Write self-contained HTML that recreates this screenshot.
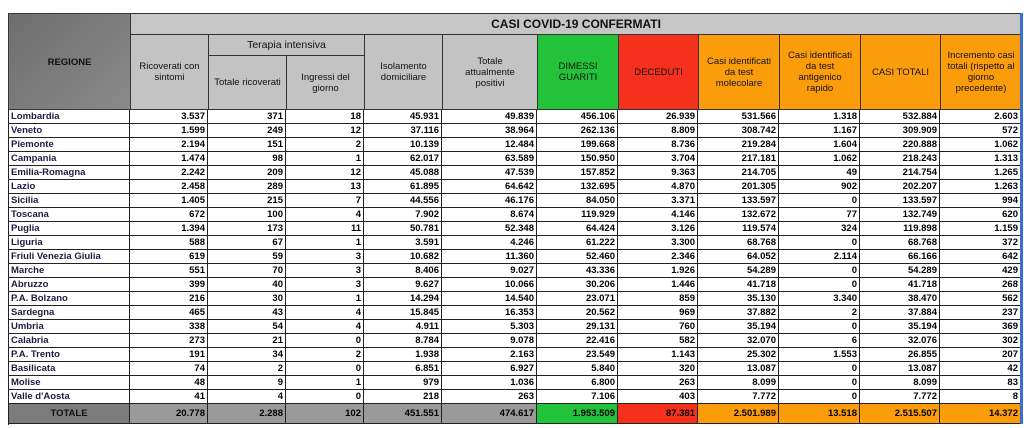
<!DOCTYPE html>
<html><head><meta charset="utf-8"><style>
body{margin:0;background:#fff;width:1024px;height:428px;overflow:hidden;font-family:"Liberation Sans",Arial,sans-serif;position:relative}
table{position:absolute;left:8px;top:13px;border-collapse:collapse;table-layout:fixed;width:1013px}
th{border:1px solid #333;font-size:9.5px;font-weight:normal;background:#c3c3c3;color:#111;line-height:11px;padding:0 1px}
.g{background:#22c23a!important}.red{background:#f5301c!important}.o{background:#fb9d0b!important}
#body{position:absolute;left:8px;top:110px;width:1013px;height:315px;overflow:hidden;border-left:1px solid #222;box-sizing:border-box}
.row{position:absolute;left:0;width:1012px;height:14px;display:flex;border-bottom:1px solid #222;box-sizing:border-box;overflow:hidden}
.row span{display:block;box-sizing:border-box;border-right:1px solid #222;height:100%;font-size:9.5px;font-weight:bold;text-align:right;padding:0 2px;line-height:13px;white-space:nowrap;overflow:hidden;background:#fff}
.row span:nth-child(1){width:121px;text-align:left;color:#1c1c40}
.row span:nth-child(2),.row span:nth-child(3),.row span:nth-child(4),.row span:nth-child(5){width:78px}
.row span:nth-child(6){width:95px}
.row span:nth-child(7){width:81px}.row span:nth-child(8){width:80px}.row span:nth-child(9){width:81px}.row span:nth-child(10){width:81px}.row span:nth-child(11){width:80px}.row span:nth-child(12){width:81px}
.row.t{height:21px;border-top:1px solid #222}
.row.t span{background:#9a9a9a;line-height:19px}
.row.t span:nth-child(1){background:#7c7c7c;text-align:center;color:#111}
</style></head><body>
<table>
<colgroup><col style="width:122px"><col style="width:78px"><col style="width:78px"><col style="width:78px"><col style="width:78px"><col style="width:95px"><col style="width:81px"><col style="width:80px"><col style="width:81px"><col style="width:81px"><col style="width:80px"><col style="width:81px"></colgroup>
<tr style="height:21px"><th rowspan="3" style="background:linear-gradient(135deg,#6e6e6e,#8a8a8a);font-weight:bold;font-size:9.5px;vertical-align:top;padding-top:43px">REGIONE</th><th colspan="11" style="font-weight:bold;font-size:12px;background:#c6c6c6">CASI COVID-19 CONFERMATI</th></tr>
<tr style="height:21px"><th rowspan="2">Ricoverati con<br>sintomi</th><th colspan="2" style="font-size:10.5px">Terapia intensiva</th><th rowspan="2">Isolamento<br>domiciliare</th><th rowspan="2">Totale<br>attualmente<br>positivi</th><th rowspan="2" class="g">DIMESSI<br>GUARITI</th><th rowspan="2" class="red">DECEDUTI</th><th rowspan="2" class="o">Casi identificati<br>da test<br>molecolare</th><th rowspan="2" class="o">Casi identificati<br>da test<br>antigenico<br>rapido</th><th rowspan="2" class="o">CASI TOTALI</th><th rowspan="2" class="o">Incremento casi<br>totali (rispetto al<br>giorno<br>precedente)</th></tr>
<tr style="height:54px"><th>Totale ricoverati</th><th>Ingressi del<br>giorno</th></tr>
</table>
<div id="body">
<div class="row" style="top:0px"><span>Lombardia</span><span>3.537</span><span>371</span><span>18</span><span>45.931</span><span>49.839</span><span>456.106</span><span>26.939</span><span>531.566</span><span>1.318</span><span>532.884</span><span>2.603</span></div>
<div class="row" style="top:14px"><span>Veneto</span><span>1.599</span><span>249</span><span>12</span><span>37.116</span><span>38.964</span><span>262.136</span><span>8.809</span><span>308.742</span><span>1.167</span><span>309.909</span><span>572</span></div>
<div class="row" style="top:28px"><span>Piemonte</span><span>2.194</span><span>151</span><span>2</span><span>10.139</span><span>12.484</span><span>199.668</span><span>8.736</span><span>219.284</span><span>1.604</span><span>220.888</span><span>1.062</span></div>
<div class="row" style="top:42px"><span>Campania</span><span>1.474</span><span>98</span><span>1</span><span>62.017</span><span>63.589</span><span>150.950</span><span>3.704</span><span>217.181</span><span>1.062</span><span>218.243</span><span>1.313</span></div>
<div class="row" style="top:56px"><span>Emilia-Romagna</span><span>2.242</span><span>209</span><span>12</span><span>45.088</span><span>47.539</span><span>157.852</span><span>9.363</span><span>214.705</span><span>49</span><span>214.754</span><span>1.265</span></div>
<div class="row" style="top:70px"><span>Lazio</span><span>2.458</span><span>289</span><span>13</span><span>61.895</span><span>64.642</span><span>132.695</span><span>4.870</span><span>201.305</span><span>902</span><span>202.207</span><span>1.263</span></div>
<div class="row" style="top:84px"><span>Sicilia</span><span>1.405</span><span>215</span><span>7</span><span>44.556</span><span>46.176</span><span>84.050</span><span>3.371</span><span>133.597</span><span>0</span><span>133.597</span><span>994</span></div>
<div class="row" style="top:98px"><span>Toscana</span><span>672</span><span>100</span><span>4</span><span>7.902</span><span>8.674</span><span>119.929</span><span>4.146</span><span>132.672</span><span>77</span><span>132.749</span><span>620</span></div>
<div class="row" style="top:112px"><span>Puglia</span><span>1.394</span><span>173</span><span>11</span><span>50.781</span><span>52.348</span><span>64.424</span><span>3.126</span><span>119.574</span><span>324</span><span>119.898</span><span>1.159</span></div>
<div class="row" style="top:126px"><span>Liguria</span><span>588</span><span>67</span><span>1</span><span>3.591</span><span>4.246</span><span>61.222</span><span>3.300</span><span>68.768</span><span>0</span><span>68.768</span><span>372</span></div>
<div class="row" style="top:140px"><span>Friuli Venezia Giulia</span><span>619</span><span>59</span><span>3</span><span>10.682</span><span>11.360</span><span>52.460</span><span>2.346</span><span>64.052</span><span>2.114</span><span>66.166</span><span>642</span></div>
<div class="row" style="top:154px"><span>Marche</span><span>551</span><span>70</span><span>3</span><span>8.406</span><span>9.027</span><span>43.336</span><span>1.926</span><span>54.289</span><span>0</span><span>54.289</span><span>429</span></div>
<div class="row" style="top:168px"><span>Abruzzo</span><span>399</span><span>40</span><span>3</span><span>9.627</span><span>10.066</span><span>30.206</span><span>1.446</span><span>41.718</span><span>0</span><span>41.718</span><span>268</span></div>
<div class="row" style="top:182px"><span>P.A. Bolzano</span><span>216</span><span>30</span><span>1</span><span>14.294</span><span>14.540</span><span>23.071</span><span>859</span><span>35.130</span><span>3.340</span><span>38.470</span><span>562</span></div>
<div class="row" style="top:196px"><span>Sardegna</span><span>465</span><span>43</span><span>4</span><span>15.845</span><span>16.353</span><span>20.562</span><span>969</span><span>37.882</span><span>2</span><span>37.884</span><span>237</span></div>
<div class="row" style="top:210px"><span>Umbria</span><span>338</span><span>54</span><span>4</span><span>4.911</span><span>5.303</span><span>29.131</span><span>760</span><span>35.194</span><span>0</span><span>35.194</span><span>369</span></div>
<div class="row" style="top:224px"><span>Calabria</span><span>273</span><span>21</span><span>0</span><span>8.784</span><span>9.078</span><span>22.416</span><span>582</span><span>32.070</span><span>6</span><span>32.076</span><span>302</span></div>
<div class="row" style="top:238px"><span>P.A. Trento</span><span>191</span><span>34</span><span>2</span><span>1.938</span><span>2.163</span><span>23.549</span><span>1.143</span><span>25.302</span><span>1.553</span><span>26.855</span><span>207</span></div>
<div class="row" style="top:252px"><span>Basilicata</span><span>74</span><span>2</span><span>0</span><span>6.851</span><span>6.927</span><span>5.840</span><span>320</span><span>13.087</span><span>0</span><span>13.087</span><span>42</span></div>
<div class="row" style="top:266px"><span>Molise</span><span>48</span><span>9</span><span>1</span><span>979</span><span>1.036</span><span>6.800</span><span>263</span><span>8.099</span><span>0</span><span>8.099</span><span>83</span></div>
<div class="row" style="top:280px"><span>Valle d'Aosta</span><span>41</span><span>4</span><span>0</span><span>218</span><span>263</span><span>7.106</span><span>403</span><span>7.772</span><span>0</span><span>7.772</span><span>8</span></div>
<div class="row t" style="top:293px"><span>TOTALE</span><span>20.778</span><span>2.288</span><span>102</span><span>451.551</span><span>474.617</span><span class="g">1.953.509</span><span class="red">87.381</span><span class="o">2.501.989</span><span class="o">13.518</span><span class="o">2.515.507</span><span class="o">14.372</span></div>
</div>
<div style="position:absolute;left:1020px;top:13px;width:3px;height:411px;background:#3a6fd0"></div>
</body></html>
